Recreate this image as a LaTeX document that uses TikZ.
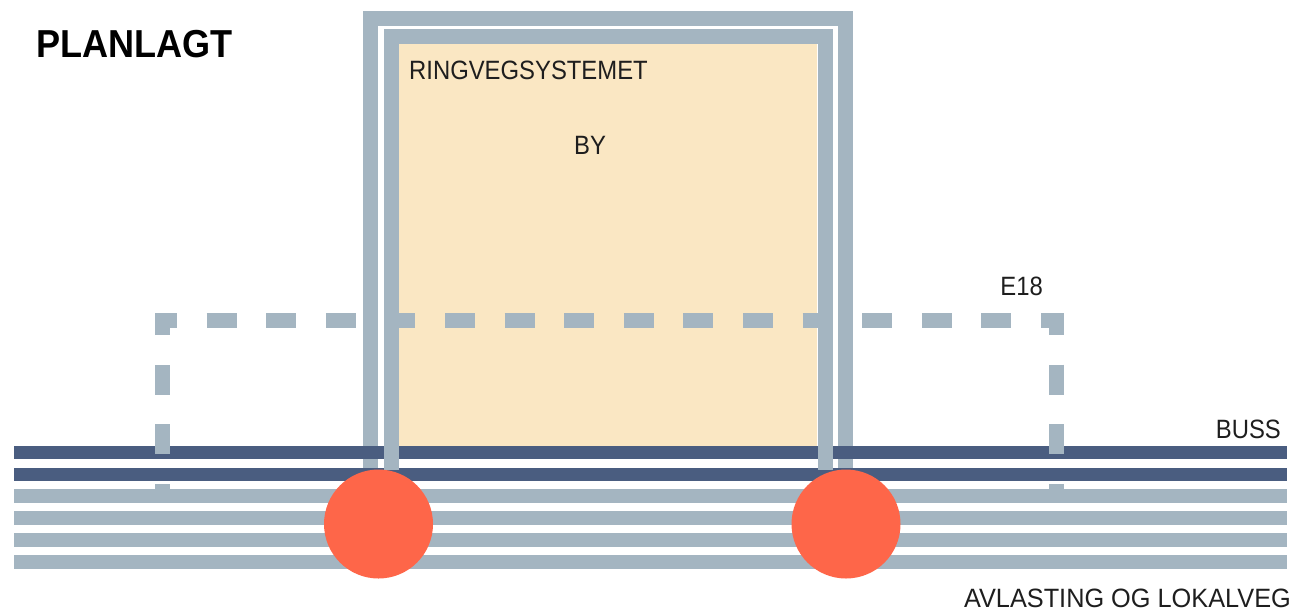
\documentclass[tikz,border=0pt]{standalone}
\usepackage{fontspec}
\setmainfont{Liberation Sans}
\definecolor{steel}{HTML}{A4B5C1}
\definecolor{navy}{HTML}{4A5D80}
\definecolor{sand}{HTML}{FAE7C3}
\definecolor{hub}{HTML}{FE6649}
\definecolor{ink}{HTML}{1E1E1E}
\begin{document}
\begin{tikzpicture}[x=1pt,y=-1pt,
  lane/.style={line width=13.5pt, draw=steel},
  busline/.style={line width=13pt, draw=navy},
  ringband/.style={line width=15pt, draw=steel, line join=miter},
  motorway/.style={line width=15pt, draw=steel, line join=miter,
    dash pattern=on 30pt off 29.6pt, dash phase=17.8pt},
  label/.style={text=ink, inner sep=0pt, font=\fontsize{26.5}{30}\selectfont},
  title/.style={text=black, inner sep=0pt, font=\fontsize{39}{42}\selectfont\bfseries}]
\useasboundingbox (0,0) rectangle (1297,614);

% city area inside the ring road
\fill[sand] (399,43) rectangle (817,452);

% outer band of the ring road
\draw[ringband] (370,470) -- (370,18) -- (845,18) -- (845,470);

% bus corridor
\draw[busline] (14,452) -- (1287,452);
\draw[busline] (14,474) -- (1287,474);

% relief and local roads
\foreach \y in {496,518,540,562}
  \draw[lane] (14,\y) -- (1287,\y);

% E18, dashed
\draw[motorway] (162,496) -- (162,320) -- (1056,320) -- (1056,496);

% inner band of the ring road
\draw[ringband] (391,470) -- (391,36) -- (825,36) -- (825,470);

% junctions
\fill[hub] (378.5,524) circle (54.5);
\fill[hub] (846,524) circle (54.5);

% labels
\node[title, anchor=base west] (tplan) at (36,57) {\scalebox{0.925}[1]{PLANLAGT}};
\node[label, anchor=base west] (tring) at (409,79) {\scalebox{0.9}[1]{RINGVEGSYSTEMET}};
\node[label, anchor=base] (tby) at (590,154) {\scalebox{0.9}[1]{BY}};
\node[label, anchor=base east] (te18) at (1043,295) {\scalebox{0.9}[1]{E18}};
\node[label, anchor=base east] (tbuss) at (1281,438) {\scalebox{0.9}[1]{BUSS}};
\node[label, anchor=base east] (tavl) at (1291,607) {\scalebox{0.955}[1]{AVLASTING OG LOKALVEG}};
\end{tikzpicture}
\end{document}
